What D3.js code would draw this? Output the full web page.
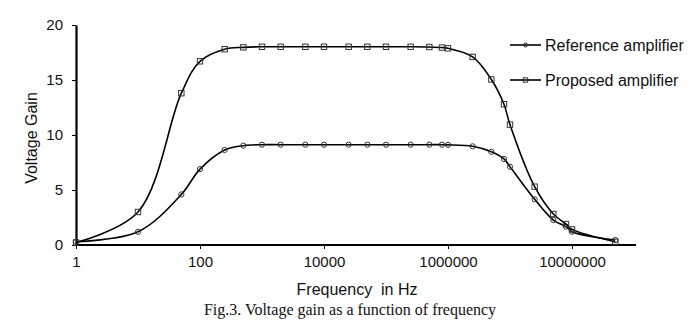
<!DOCTYPE html>
<html><head><meta charset="utf-8">
<script src="https://cdn.jsdelivr.net/npm/d3@7/dist/d3.min.js"></script>
<style>
html,body{margin:0;padding:0;background:#fff;}
svg{display:block;}
text{font-family:"Liberation Sans",Arial,sans-serif;fill:#111;}
</style></head>
<body>
<svg id="chart" width="696" height="324"></svg>
<script>
const frequencies = [1, 10, 50, 100, 250, 500, 1000, 2000, 5000, 10000, 25000, 50000, 100000, 250000, 500000, 800000, 1000000, 2500000, 5000000, 8000000, 10000000, 25000000, 50000000, 80000000, 100000000, 500000000];
const referenceGain = [0.3, 1.2, 4.6, 6.9, 8.64, 9.03, 9.12, 9.12, 9.12, 9.12, 9.12, 9.12, 9.12, 9.12, 9.12, 9.12, 9.1, 8.97, 8.47, 7.82, 7.12, 4.15, 2.27, 1.67, 1.21, 0.45];
const proposedGain = [0.22, 3.0, 13.8, 16.7, 17.8, 17.97, 18.02, 18.02, 18.02, 18.02, 18.02, 18.02, 18.02, 18.02, 18.0, 17.95, 17.88, 17.1, 15.05, 12.8, 10.94, 5.3, 2.82, 1.9, 1.42, 0.3];
const xTickValues = [1, 100, 10000, 1000000, 100000000];
const xTickLabels = ["1", "100", "10000", "1000000", "10000000"];
const yTickValues = [0, 5, 10, 15, 20];
const seriesNames = ["Reference amplifier", "Proposed amplifier"];

const svg = d3.select("#chart");
const x = d3.scaleLog().domain([1, 1e9]).range([76, 634]);
const y = d3.scaleLinear().domain([0, 20]).range([245, 25]);

// axes
const xAxis = svg.append("g").attr("transform", "translate(0,245)")
  .call(d3.axisBottom(x).tickValues(xTickValues).tickFormat((d,i)=>xTickLabels[i]).tickSize(4).tickSizeOuter(0));
xAxis.select(".domain").attr("stroke","#000").attr("stroke-width",2.2).attr("d","M76,0H636");
xAxis.selectAll(".tick line").attr("stroke","#000").attr("stroke-width",1);
xAxis.selectAll(".tick text").attr("font-size",15).attr("y",11).attr("dy","0.71em").style("font-family","'Liberation Sans',Arial,sans-serif").attr("fill","#111");

const yAxis = svg.append("g").attr("transform", "translate(76,0)")
  .call(d3.axisLeft(y).tickValues(yTickValues).tickSize(4).tickSizeOuter(0));
yAxis.select(".domain").attr("stroke","#000").attr("stroke-width",2.2);
yAxis.selectAll(".tick line").attr("stroke","#000").attr("stroke-width",1);
yAxis.selectAll(".tick text").attr("font-size",15).attr("x",-13).style("font-family","'Liberation Sans',Arial,sans-serif").attr("fill","#111");

// titles
svg.append("text").attr("transform","translate(37,138) rotate(-90)").attr("text-anchor","middle")
  .attr("font-size",16).text("Voltage Gain");
svg.append("text").attr("x",357).attr("y",295).attr("text-anchor","middle").attr("font-size",16)
  .style("white-space","pre").text("Frequency  in Hz");
svg.append("text").attr("x",350).attr("y",315).attr("text-anchor","middle").attr("font-size",16)
  .style("font-family","'Liberation Serif','Times New Roman',serif").attr("fill","#000").text("Fig.3. Voltage gain as a function of frequency");

const line = d3.line().x(d=>x(d[0])).y(d=>y(d[1])).curve(d3.curveCatmullRom.alpha(0.5));
const series = [referenceGain, proposedGain].map(vals => frequencies.map((f,i)=>[f, vals[i]]));

series.forEach((pts, si) => {
  svg.append("path").attr("d", line(pts)).attr("fill","none").attr("stroke","#000").attr("stroke-width",1.6);
  const g = svg.append("g");
  if (si === 0) {
    g.selectAll("circle").data(pts).join("circle")
      .attr("cx",d=>x(d[0])).attr("cy",d=>y(d[1])).attr("r",2.6)
      .attr("fill","none").attr("stroke","#333").attr("stroke-width",1);
  } else {
    g.selectAll("rect").data(pts).join("rect")
      .attr("x",d=>x(d[0])-2.7).attr("y",d=>y(d[1])-2.7).attr("width",5.4).attr("height",5.4)
      .attr("fill","none").attr("stroke","#333").attr("stroke-width",1);
  }
});

// legend
const legendRows = [45, 80];
seriesNames.forEach((name, i) => {
  const ly = legendRows[i];
  svg.append("line").attr("x1",510).attr("x2",541).attr("y1",ly).attr("y2",ly).attr("stroke","#000").attr("stroke-width",1.6);
  if (i === 0) {
    svg.append("circle").attr("cx",525.5).attr("cy",ly).attr("r",2).attr("fill","none").attr("stroke","#333").attr("stroke-width",1);
  } else {
    svg.append("rect").attr("x",523.3).attr("y",ly-2.2).attr("width",4.4).attr("height",4.4).attr("fill","none").attr("stroke","#333").attr("stroke-width",1);
  }
  svg.append("text").attr("x",545).attr("y",ly).attr("dy","0.36em").attr("font-size",16).text(name);
});
</script>
</body></html>
